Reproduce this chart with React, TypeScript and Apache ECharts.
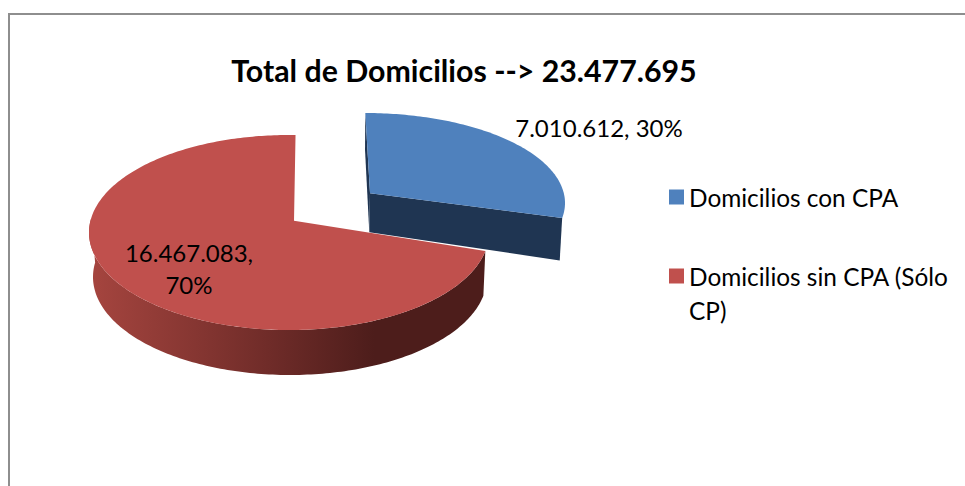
import React, { useEffect, useRef } from "react";
import * as echarts from "echarts";

const chartTitle = "Total de Domicilios --> 23.477.695";
const categories = ["Domicilios con CPA", "Domicilios sin CPA (Sólo\nCP)"];
const values = [7010612, 16467083];
const sliceColors = ["#4F81BD", "#C0504D"];
const FONT = "Lato, Carlito, Calibri, sans-serif";

const total = values[0] + values[1];
const fmt = (v: number) => String(v).replace(/\B(?=(\d{3})+(?!\d))/g, ".");
const labelOf = (i: number, wrap: boolean) =>
  `${fmt(values[i])},${wrap ? "\n" : " "}${Math.round((values[i] / total) * 100)}%`;

// Perspective pie: each slice is an ellipse whose apex sits off its centre.
type Geo = {
  top: { cx: number; cy: number; rx: number; ry: number };
  bottom: { cx: number; cy: number; rx: number; ry: number };
  apex: [number, number];
  apexBottom: [number, number];
  tilt: number;
};
const geos: Geo[] = [
  {
    top: { cx: 365, cy: 203, rx: 200, ry: 90 },
    bottom: { cx: 366.5, cy: 245, rx: 196, ry: 92 },
    apex: [370, 193.3],
    apexBottom: [369.3, 232.3],
    tilt: -1.5,
  },
  {
    top: { cx: 289, cy: 232.5, rx: 200, ry: 97.5 },
    bottom: { cx: 290, cy: 277, rx: 197, ry: 98 },
    apex: [294, 220.8],
    apexBottom: [294, 262],
    tilt: 0.5,
  },
];

function unitPoint(g: Geo, deg: number): [number, number] {
  const a = ((deg + g.tilt) * Math.PI) / 180;
  const dx = Math.sin(a);
  const dy = -Math.cos(a);
  const px = (g.apex[0] - g.top.cx) / g.top.rx;
  const py = (g.apex[1] - g.top.cy) / g.top.ry;
  const b = px * dx + py * dy;
  const c = px * px + py * py - 1;
  const s = -b + Math.sqrt(b * b - c);
  return [px + s * dx, py + s * dy];
}
function onEllipse(e: Geo["top"], u: [number, number]): number[] {
  return [e.cx + u[0] * e.rx, e.cy + u[1] * e.ry];
}
function arc(g: Geo, e: Geo["top"], from: number, to: number): number[][] {
  const pts: number[][] = [];
  const n = Math.ceil(Math.abs(to - from));
  for (let k = 0; k <= n; k++) pts.push(onEllipse(e, unitPoint(g, from + ((to - from) * k) / n)));
  return pts;
}

function renderSlice(i: number) {
  return (_params: any, api: any) => {
    const v = api.value(0) as number;
    const before = values.slice(0, i).reduce((a, b) => a + b, 0);
    const start = (before / total) * 360;
    const end = start + (v / total) * 360;
    const g = geos[i];
    const topArc = arc(g, g.top, start, end);
    const children: any[] = [];
    if (i === 0) {
      const endTop = topArc[topArc.length - 1];
      const endBottom = onEllipse(g.bottom, unitPoint(g, end));
      children.push({
        type: "polygon",
        shape: { points: [g.apex, endTop, endBottom, g.apexBottom] },
        style: { fill: "#1F3552" },
      });
      children.push({
        type: "polygon",
        shape: { points: [topArc[0], [topArc[0][0] - 0.3, 150], g.apexBottom, g.apex] },
        style: { fill: "#1F3552" },
      });
    } else {
      const sideTop = arc(g, g.top, start, 271);
      const sideBottom = arc(g, g.bottom, start, 271).reverse();
      children.push({
        type: "polygon",
        shape: { points: [...sideTop, ...sideBottom] },
        style: {
          fill: new echarts.graphic.LinearGradient(0, 0, 1, 0, [
            { offset: 0, color: "#A6453F" },
            { offset: 0.45, color: "#702C29" },
            { offset: 0.72, color: "#4D1D1B" },
            { offset: 1, color: "#4D1D1B" },
          ]),
        },
      });
    }
    children.push({
      type: "polygon",
      shape: { points: [g.apex, ...topArc] },
      style: { fill: sliceColors[i] },
    });
    children.push(
      i === 0
        ? {
            type: "text",
            style: {
              text: labelOf(0, false),
              x: 599,
              y: 127,
              align: "center",
              verticalAlign: "middle",
              font: `24px ${FONT}`,
              fill: "#000",
            },
          }
        : {
            type: "text",
            style: {
              text: labelOf(1, true),
              x: 189,
              y: 268,
              align: "center",
              verticalAlign: "middle",
              lineHeight: 32,
              font: `24px ${FONT}`,
              fill: "#000",
            },
          }
    );
    return { type: "group", children };
  };
}

export default function App() {
  const ref = useRef<HTMLDivElement>(null);
  useEffect(() => {
    const chart = echarts.init(ref.current!, undefined, { renderer: "svg" });
    chart.setOption({
      animation: false,
      backgroundColor: "#fff",
      title: {
        text: chartTitle,
        left: 459,
        top: 50,
        textAlign: "center",
        textStyle: { fontFamily: FONT, fontSize: 30.3, fontWeight: "bold", color: "#000" },
      },
      legend: {
        orient: "vertical",
        left: 669,
        top: 180,
        padding: 0,
        itemWidth: 15,
        itemHeight: 15,
        itemGap: 11,
        selectedMode: false,
        icon: "rect",
        data: categories.map((name, i) => ({ name, itemStyle: { color: sliceColors[i] } })),
        formatter: (n: string) => (n.includes("\n") ? "\n" + n : n),
        textStyle: { fontFamily: FONT, fontSize: 24.4, lineHeight: 34, color: "#000" },
      },
      graphic: [
        {
          type: "polyline",
          shape: { points: [[9, 486], [9, 14], [965, 14]] },
          style: { stroke: "#8E8E8E", lineWidth: 2, fill: "none" },
        },
      ],
      series: categories.map((name, i) => ({
        type: "custom",
        name,
        coordinateSystem: "none",
        silent: true,
        itemStyle: { color: sliceColors[i] },
        data: [[values[i]]],
        renderItem: renderSlice(i),
      })),
    });
    return () => chart.dispose();
  }, []);
  return (
    <div
      ref={ref}
      style={{ position: "fixed", left: 0, top: 0, width: 965, height: 486 }}
    />
  );
}
